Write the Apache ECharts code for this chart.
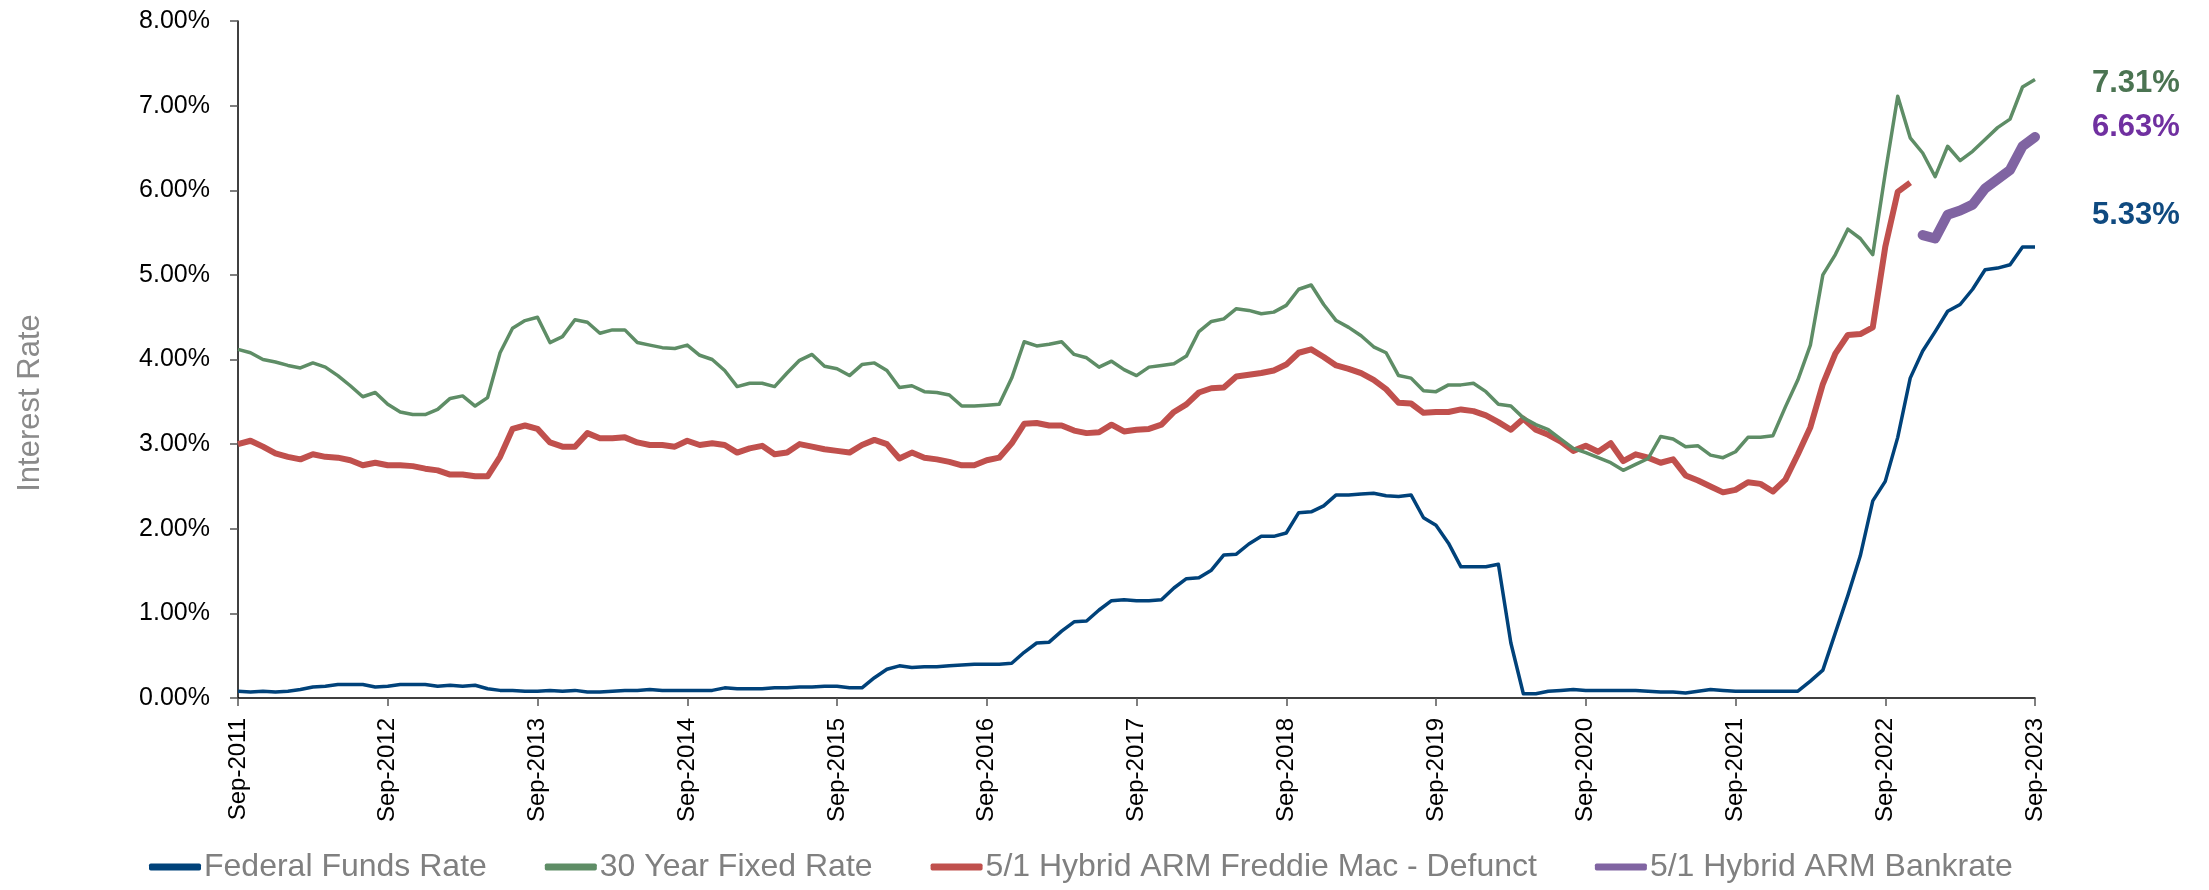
<!DOCTYPE html>
<html>
<head>
<meta charset="utf-8">
<script src="https://cdn.jsdelivr.net/npm/echarts@6/dist/echarts.min.js"></script>
<style>
html,body{margin:0;padding:0;background:#fff;}
#chart{width:2209px;height:890px;}
</style>
</head>
<body>
<div id="chart"></div>
<script>
// ---- data ----
const MONTH_NAMES = ['Jan','Feb','Mar','Apr','May','Jun','Jul','Aug','Sep','Oct','Nov','Dec'];
const START_YEAR = 2011, START_MONTH = 8, N_MONTHS = 145; // Sep-2011 .. Sep-2023
const categories = [];
for (let i = 0; i < N_MONTHS; i++) {
  const m = (START_MONTH + i) % 12, y = START_YEAR + Math.floor((START_MONTH + i) / 12);
  categories.push(MONTH_NAMES[m] + '-' + y);
}

const fedFunds = [
  0.08,0.07,0.08,0.07,0.08,0.10,0.13,0.14,0.16,0.16,0.16,0.13,
  0.14,0.16,0.16,0.16,0.14,0.15,0.14,0.15,0.11,0.09,0.09,0.08,
  0.08,0.09,0.08,0.09,0.07,0.07,0.08,0.09,0.09,0.10,0.09,0.09,
  0.09,0.09,0.09,0.12,0.11,0.11,0.11,0.12,0.12,0.13,0.13,0.14,
  0.14,0.12,0.12,0.24,0.34,0.38,0.36,0.37,0.37,0.38,0.39,0.40,
  0.40,0.40,0.41,0.54,0.65,0.66,0.79,0.90,0.91,1.04,1.15,1.16,
  1.15,1.15,1.16,1.30,1.41,1.42,1.51,1.69,1.70,1.82,1.91,1.91,
  1.95,2.19,2.20,2.27,2.40,2.40,2.41,2.42,2.39,2.38,2.40,2.13,
  2.04,1.83,1.55,1.55,1.55,1.58,0.65,0.05,0.05,0.08,0.09,0.10,
  0.09,0.09,0.09,0.09,0.09,0.08,0.07,0.07,0.06,0.08,0.10,0.09,
  0.08,0.08,0.08,0.08,0.08,0.08,0.20,0.33,0.77,1.21,1.68,2.33,
  2.56,3.08,3.78,4.10,4.33,4.57,4.65,4.83,5.06,5.08,5.12,5.33,5.33
];

const fixed30 = [
  4.12,4.08,4.00,3.97,3.93,3.90,3.96,3.91,3.81,3.69,3.56,3.61,
  3.47,3.38,3.35,3.35,3.41,3.54,3.57,3.45,3.55,4.08,4.37,4.46,
  4.50,4.20,4.27,4.47,4.44,4.31,4.35,4.35,4.20,4.17,4.14,4.13,
  4.17,4.05,4.00,3.87,3.68,3.72,3.72,3.68,3.84,3.99,4.06,3.92,
  3.89,3.81,3.94,3.96,3.87,3.67,3.69,3.62,3.61,3.58,3.45,3.45,
  3.46,3.47,3.78,4.21,4.16,4.18,4.21,4.06,4.02,3.91,3.98,3.88,
  3.81,3.91,3.93,3.95,4.04,4.33,4.45,4.48,4.60,4.58,4.54,4.56,
  4.64,4.83,4.88,4.65,4.46,4.38,4.28,4.15,4.08,3.81,3.78,3.63,
  3.62,3.70,3.70,3.72,3.62,3.47,3.45,3.31,3.23,3.17,3.06,2.95,
  2.90,2.84,2.78,2.69,2.76,2.83,3.09,3.06,2.97,2.98,2.87,2.84,
  2.91,3.08,3.08,3.10,3.44,3.76,4.17,5.00,5.24,5.54,5.43,5.24,
  6.20,7.11,6.62,6.44,6.16,6.52,6.35,6.46,6.60,6.74,6.84,7.22,7.31
];

// Freddie Mac 5/1 ARM: Sep-2011 .. Nov-2022 (discontinued)
const armFreddie = [
  3.00,3.04,2.97,2.89,2.85,2.82,2.88,2.85,2.84,2.81,2.75,2.78,
  2.75,2.75,2.74,2.71,2.69,2.64,2.64,2.62,2.62,2.85,3.18,3.22,
  3.18,3.02,2.97,2.97,3.13,3.07,3.07,3.08,3.02,2.99,2.99,2.97,
  3.04,2.99,3.01,2.99,2.90,2.95,2.98,2.88,2.90,3.00,2.97,2.94,
  2.92,2.90,2.99,3.05,3.00,2.83,2.90,2.84,2.82,2.79,2.75,2.75,
  2.81,2.84,3.01,3.24,3.25,3.22,3.22,3.16,3.13,3.14,3.23,3.15,
  3.17,3.18,3.23,3.38,3.47,3.61,3.66,3.67,3.80,3.82,3.84,3.87,
  3.94,4.08,4.12,4.03,3.93,3.89,3.84,3.76,3.65,3.49,3.48,3.37,
  3.38,3.38,3.41,3.39,3.34,3.26,3.17,3.30,3.17,3.11,3.03,2.92,
  2.98,2.91,3.01,2.80,2.88,2.84,2.78,2.82,2.63,2.57,2.50,2.43,
  2.46,2.55,2.53,2.44,2.58,2.88,3.20,3.71,4.07,4.29,4.30,4.38,
  5.33,5.98,6.09
];

// Bankrate 5/1 ARM: Dec-2022 .. Sep-2023
const armBankrateStart = 'Dec-2022';
const armBankrate = [5.47,5.43,5.71,5.76,5.83,6.02,6.13,6.24,6.52,6.63];

const yTicks = [0,1,2,3,4,5,6,7,8];

// ---- build series arrays on the category axis ----
function pad(arr, startIdx) {
  const out = new Array(N_MONTHS).fill(null);
  arr.forEach((v, k) => { out[startIdx + k] = v; });
  return out;
}
const armFreddieData = pad(armFreddie, 0);
const armBankrateData = pad(armBankrate, categories.indexOf(armBankrateStart));

const FONT = '"Liberation Sans", Arial, sans-serif';
const chart = echarts.init(document.getElementById('chart'), null, {renderer: 'canvas'});

function endLbl(color, dy) {
  return {
    show: true,
    formatter: p => Number(p.value).toFixed(2) + '%',
    color: color, fontSize: 31, fontWeight: 'bold', fontFamily: FONT,
    distance: 57, offset: [0, dy]
  };
}

chart.setOption({
  animation: false,
  backgroundColor: '#ffffff',
  grid: {left: 238, right: 174, top: 21, bottom: 192, containLabel: false},
  xAxis: {
    type: 'category',
    data: categories,
    boundaryGap: false,
    axisLine: {lineStyle: {color: '#000000', width: 1.5}},
    axisTick: {show: true, interval: 11, length: 8, lineStyle: {color: '#555555', width: 1.5}},
    axisLabel: {
      interval: 11, rotate: 90, margin: 20,
      color: '#000000', fontSize: 24, fontFamily: FONT
    },
    splitLine: {show: false}
  },
  yAxis: {
    type: 'value',
    min: yTicks[0], max: yTicks[yTicks.length - 1], interval: 1,
    axisLine: {show: true, lineStyle: {color: '#000000', width: 1.5}},
    axisTick: {show: true, length: 8, lineStyle: {color: '#555555', width: 1.5}},
    axisLabel: {
      margin: 28, color: '#000000', fontSize: 25, fontFamily: FONT,
      formatter: v => v.toFixed(2) + '%'
    },
    splitLine: {show: false}
  },
  legend: {
    bottom: 2, left: 144,
    itemWidth: 52, itemHeight: 7, itemGap: 58,
    icon: 'roundRect',
    textStyle: {color: '#808080', fontSize: 32, fontFamily: FONT, padding: [0, 0, 0, -2]},
    data: ['Federal Funds Rate', '30 Year Fixed Rate', '5/1 Hybrid ARM Freddie Mac - Defunct', '5/1 Hybrid ARM Bankrate']
  },
  graphic: [{
    type: 'text',
    x: 30, y: 403,
    rotation: Math.PI / 2,
    style: {
      text: 'Interest Rate', fill: '#8a8a8a', fontSize: 31, fontFamily: FONT,
      align: 'center', verticalAlign: 'middle'
    }
  }],
  series: [
    {
      name: 'Federal Funds Rate', type: 'line', data: fedFunds,
      showSymbol: false, symbol: 'none',
      lineStyle: {color: '#00427a', width: 3.5, join: 'round'},
      itemStyle: {color: '#00427a'},
      endLabel: endLbl('#0f4a80', -31),
      z: 4
    },
    {
      name: '30 Year Fixed Rate', type: 'line', data: fixed30,
      showSymbol: false, symbol: 'none',
      lineStyle: {color: '#5e8d66', width: 3.5, join: 'round'},
      itemStyle: {color: '#5e8d66'},
      endLabel: endLbl('#4b7452', 4),
      z: 3
    },
    {
      name: '5/1 Hybrid ARM Freddie Mac - Defunct', type: 'line', data: armFreddieData,
      showSymbol: false, symbol: 'none', connectNulls: false,
      lineStyle: {color: '#c0504d', width: 6, join: 'round'},
      itemStyle: {color: '#c0504d'},
      z: 2
    },
    {
      name: '5/1 Hybrid ARM Bankrate', type: 'line', data: armBankrateData,
      showSymbol: false, symbol: 'none', connectNulls: false,
      lineStyle: {color: '#8064a2', width: 10, cap: 'round', join: 'round'},
      itemStyle: {color: '#8064a2'},
      endLabel: endLbl('#7030a0', -9),
      z: 5
    }
  ]
});
</script>
</body>
</html>
